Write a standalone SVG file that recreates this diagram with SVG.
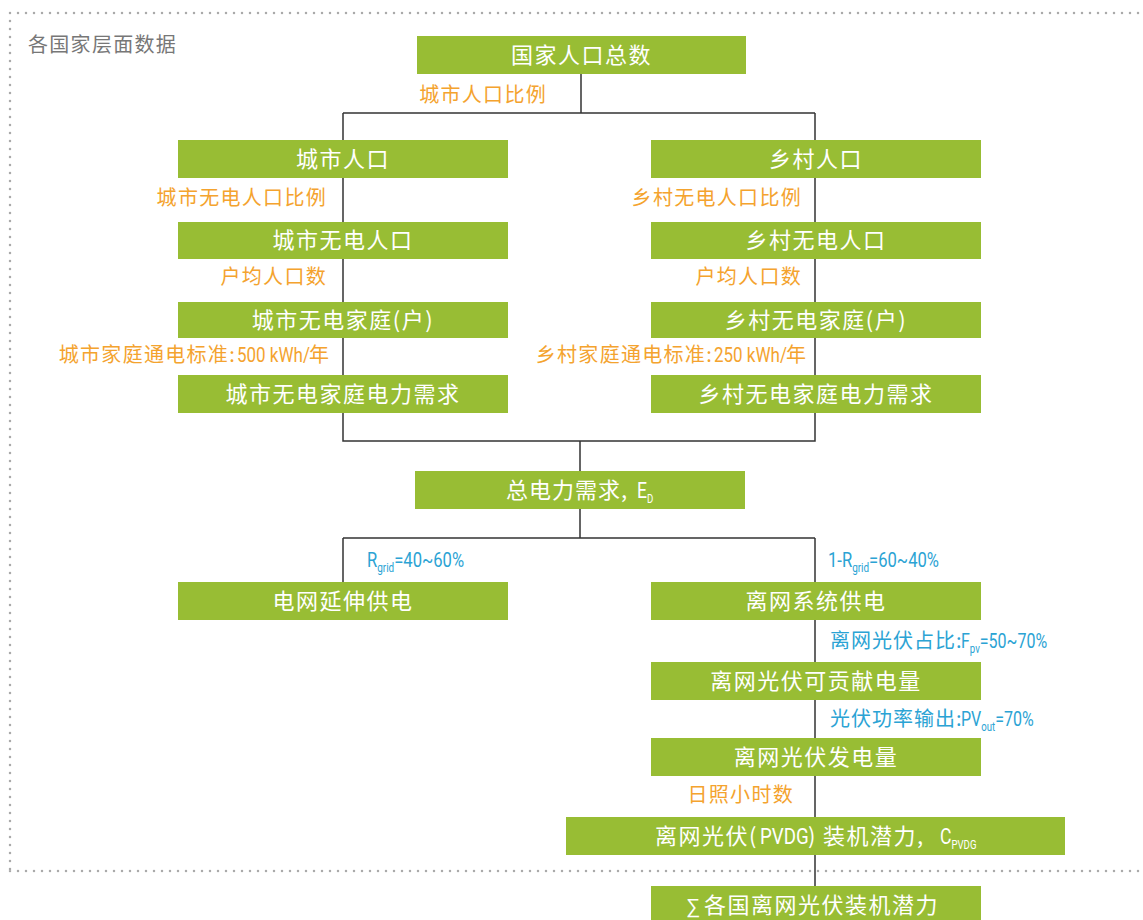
<svg xmlns="http://www.w3.org/2000/svg" width="1143" height="920" viewBox="0 0 1143 920">
<style>
.box{fill:#98bd34}
.bt{fill:#fff;font-family:"Noto Sans CJK SC","Noto Sans",sans-serif;font-size:22px;letter-spacing:1.5px;text-anchor:middle}
.bs{fill:#fff;font-family:"Noto Sans CJK SC","Noto Sans",sans-serif;font-size:22px;letter-spacing:1.5px}
.ol{fill:#f4a32e;font-family:"Noto Sans CJK SC","Noto Sans",sans-serif;font-size:20px;letter-spacing:1.3px;text-anchor:end}
.os{fill:#f4a32e;font-family:"Noto Sans CJK SC","Noto Sans",sans-serif;font-size:20px;letter-spacing:1.3px}
.bl{fill:#2ba3d4;font-family:"Noto Sans CJK SC","Noto Sans",sans-serif;font-size:20px;letter-spacing:1px}
.lt{font-family:Roboto,"Liberation Sans",sans-serif;font-size:20px}
.lw{fill:#fff;font-family:Roboto,"Liberation Sans",sans-serif;font-size:22px}
.lo{fill:#f4a32e}
.lb{fill:#2ba3d4}
.sub{font-size:12px}
.ln{fill:none;stroke:#333;stroke-width:1.5}
.dot{fill:none;stroke:#aaa;stroke-width:2.5;stroke-linecap:round;stroke-dasharray:0 8}
</style>
<path class="dot" d="M10 13 H1143 M10 13 V871 M10 871 H1143"/>
<text x="28" y="52" style="fill:#777;font-family:'Noto Sans CJK SC',sans-serif;font-size:20px;letter-spacing:1.3px">各国家层面数据</text>
<g id="connectors">
<path class="ln" d="M581 74 V113 M343 113 H815 M343 113 V375 M815 113 V375 M343 413 V441 H815 V413 M580 441 V471 M580 509 V538 M343 538 H815 M343 538 V582 M815 538 V886"/>
</g>
<g id="n1"><rect class="box" x="417" y="36" width="329" height="38"/><text class="bt" x="581.5" y="63">国家人口总数</text></g>
<text class="ol" x="547" y="102">城市人口比例</text>
<g id="n2"><rect class="box" x="178" y="140" width="330" height="38"/><text class="bt" x="343" y="167">城市人口</text></g>
<g id="n3"><rect class="box" x="651" y="140" width="330" height="38"/><text class="bt" x="816" y="167">乡村人口</text></g>
<text class="ol" x="327" y="205">城市无电人口比例</text>
<text class="ol" x="802" y="205">乡村无电人口比例</text>
<g id="n4"><rect class="box" x="178" y="222" width="330" height="37"/><text class="bt" x="343" y="248">城市无电人口</text></g>
<g id="n5"><rect class="box" x="651" y="222" width="330" height="37"/><text class="bt" x="816" y="248">乡村无电人口</text></g>
<text class="ol" x="327" y="284">户均人口数</text>
<text class="ol" x="802" y="284">户均人口数</text>
<g id="n6"><rect class="box" x="178" y="302" width="330" height="36"/><text class="bt" x="343" y="328">城市无电家庭(户)</text></g>
<g id="n7"><rect class="box" x="651" y="302" width="330" height="36"/><text class="bt" x="816" y="328">乡村无电家庭(户)</text></g>
<g id="lab-urban-std">
<text class="ol" x="236" y="362">城市家庭通电标准:</text>
<text class="lt lo" transform="translate(237,362) scale(0.85,1)">500 kWh/</text>
<text class="os" x="309" y="362">年</text>
</g>
<g id="lab-rural-std">
<text class="ol" x="713" y="362">乡村家庭通电标准:</text>
<text class="lt lo" transform="translate(714,362) scale(0.85,1)">250 kWh/</text>
<text class="os" x="786" y="362">年</text>
</g>
<g id="n8"><rect class="box" x="178" y="375" width="330" height="38"/><text class="bt" x="343" y="402">城市无电家庭电力需求</text></g>
<g id="n9"><rect class="box" x="651" y="375" width="330" height="38"/><text class="bt" x="816" y="402">乡村无电家庭电力需求</text></g>
<g id="n10"><rect class="box" x="415" y="471" width="330" height="38"/>
<text class="bs" x="506" y="498" style="letter-spacing:1px">总电力需求,</text>
<text class="lw" transform="translate(637,498) scale(0.8,1)">E<tspan class="sub" dy="5">D</tspan></text></g>
<text class="lt lb" transform="translate(367,567) scale(0.83,1)">R<tspan class="sub" dy="5">grid</tspan><tspan dy="-5">=40~60%</tspan></text>
<text class="lt lb" transform="translate(828,567) scale(0.83,1)">1-R<tspan class="sub" dy="5">grid</tspan><tspan dy="-5">=60~40%</tspan></text>
<g id="n11"><rect class="box" x="178" y="582" width="330" height="38"/><text class="bt" x="343" y="609">电网延伸供电</text></g>
<g id="n12"><rect class="box" x="651" y="582" width="330" height="38"/><text class="bt" x="816" y="609">离网系统供电</text></g>
<g id="lab-fpv">
<text class="bl" x="830" y="648">离网光伏占比:</text>
<text class="lt lb" transform="translate(961,648) scale(0.8,1)">F<tspan class="sub" dy="5">pv</tspan><tspan dy="-5">=50~70%</tspan></text>
</g>
<g id="n13"><rect class="box" x="651" y="662" width="330" height="38"/><text class="bt" x="816" y="689">离网光伏可贡献电量</text></g>
<g id="lab-pvout">
<text class="bl" x="830" y="726">光伏功率输出:</text>
<text class="lt lb" transform="translate(961,726) scale(0.8,1)">PV<tspan class="sub" dy="5">out</tspan><tspan dy="-5">=70%</tspan></text>
</g>
<g id="n14"><rect class="box" x="651" y="738" width="330" height="38"/><text class="bt" x="816" y="765">离网光伏发电量</text></g>
<text class="ol" x="794" y="802">日照小时数</text>
<g id="n15"><rect class="box" x="566" y="817" width="499" height="38"/>
<text class="bs" x="655" y="844">离网光伏(</text>
<text class="lw" transform="translate(760,844) scale(0.85,1)">PVDG</text>
<text class="bs" x="808" y="844">)</text>
<text class="bs" x="823" y="844">装机潜力,</text>
<text class="lw" transform="translate(940,844) scale(0.8,1)">C<tspan class="sub" dy="5">PVDG</tspan></text>
</g>
<g id="n16"><rect class="box" x="651" y="886" width="330" height="40"/>
<text x="686" y="913" style="fill:#fff;font-family:'Liberation Sans','DejaVu Sans',sans-serif;font-size:20px">∑</text>
<text class="bs" x="704" y="913">各国离网光伏装机潜力</text></g>
</svg>
